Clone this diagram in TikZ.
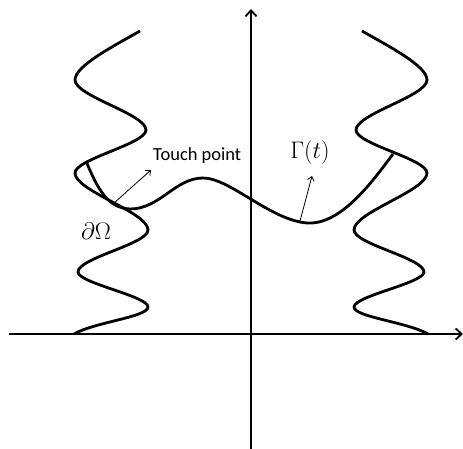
\documentclass[tikz,border=0pt]{standalone}
\usepackage{fix-cm}
\usepackage{fontspec}
\newfontfamily\calfont{Carlito}
\usetikzlibrary{arrows.meta}
\tikzset{
  axis/.style  = {line width=1.8pt,
                  -{Straight Barb[length=6pt,width=11pt,line width=1.8pt]}},
  wall/.style  = {line width=2.8pt},
  front/.style = {line width=2.8pt},
  ar/.style    = {-{Straight Barb[length=4pt,width=7pt]}, line width=0.8pt},
  lbl/.style   = {font=\fontsize{24}{27}\selectfont, inner sep=0pt},
  tag/.style   = {font=\calfont\fontsize{18.5}{21}\selectfont, inner sep=0pt},
}
\begin{document}
\begin{tikzpicture}[x=1pt,y=-1pt]
\useasboundingbox (0,0) rectangle (463,449);
% axes
\coordinate (xl) at (9,334);
\coordinate (xr) at (463,334);
\coordinate (yb) at (251,449);
\coordinate (yt) at (251,9);
\draw[axis] (xl) -- (xr);
\draw[axis] (yb) -- (yt);
% boundary, left and mirrored right
\foreach \s/\o in {1/0, -1/502}{
  \begin{scope}[shift={(\o,0)}, xscale=\s]
  \draw[wall] (140,31) .. controls (112,47) and (75,66) .. (75,80)
    .. controls (75,96) and (146,114) .. (146,130)
    .. controls (146,144) and (75,159) .. (75,173)
    .. controls (75,191) and (148,212) .. (148,230)
    .. controls (148,244) and (78,258) .. (78,272)
    .. controls (78,283) and (148,296) .. (148,307)
    .. controls (148,317) and (95,322) .. (74,334);
  \end{scope}
}
% the front Gamma(t)
\draw[front] (86,161) .. controls (98,190) and (108,208) .. (130,209)
  .. controls (160,209) and (175,178) .. (203,178)
  .. controls (230,178) and (270,220) .. (307,223)
  .. controls (340,225) and (370,185) .. (393,154);
% labels
\coordinate (touch) at (114,203);
\coordinate (touchtip) at (151,170);
\node[tag, anchor=base west] (tp) at (153,161) {Touch point};
\draw[ar] (touch) -- (touchtip);
\coordinate (gfoot) at (300,221);
\coordinate (gtip) at (312,176);
\node[lbl, anchor=base] (gam) at (310,159) {$\Gamma(t)$};
\draw[ar] (gfoot) -- (gtip);
\node[lbl, anchor=base] (dom) at (96,240) {$\partial\Omega$};
\end{tikzpicture}
\end{document}
